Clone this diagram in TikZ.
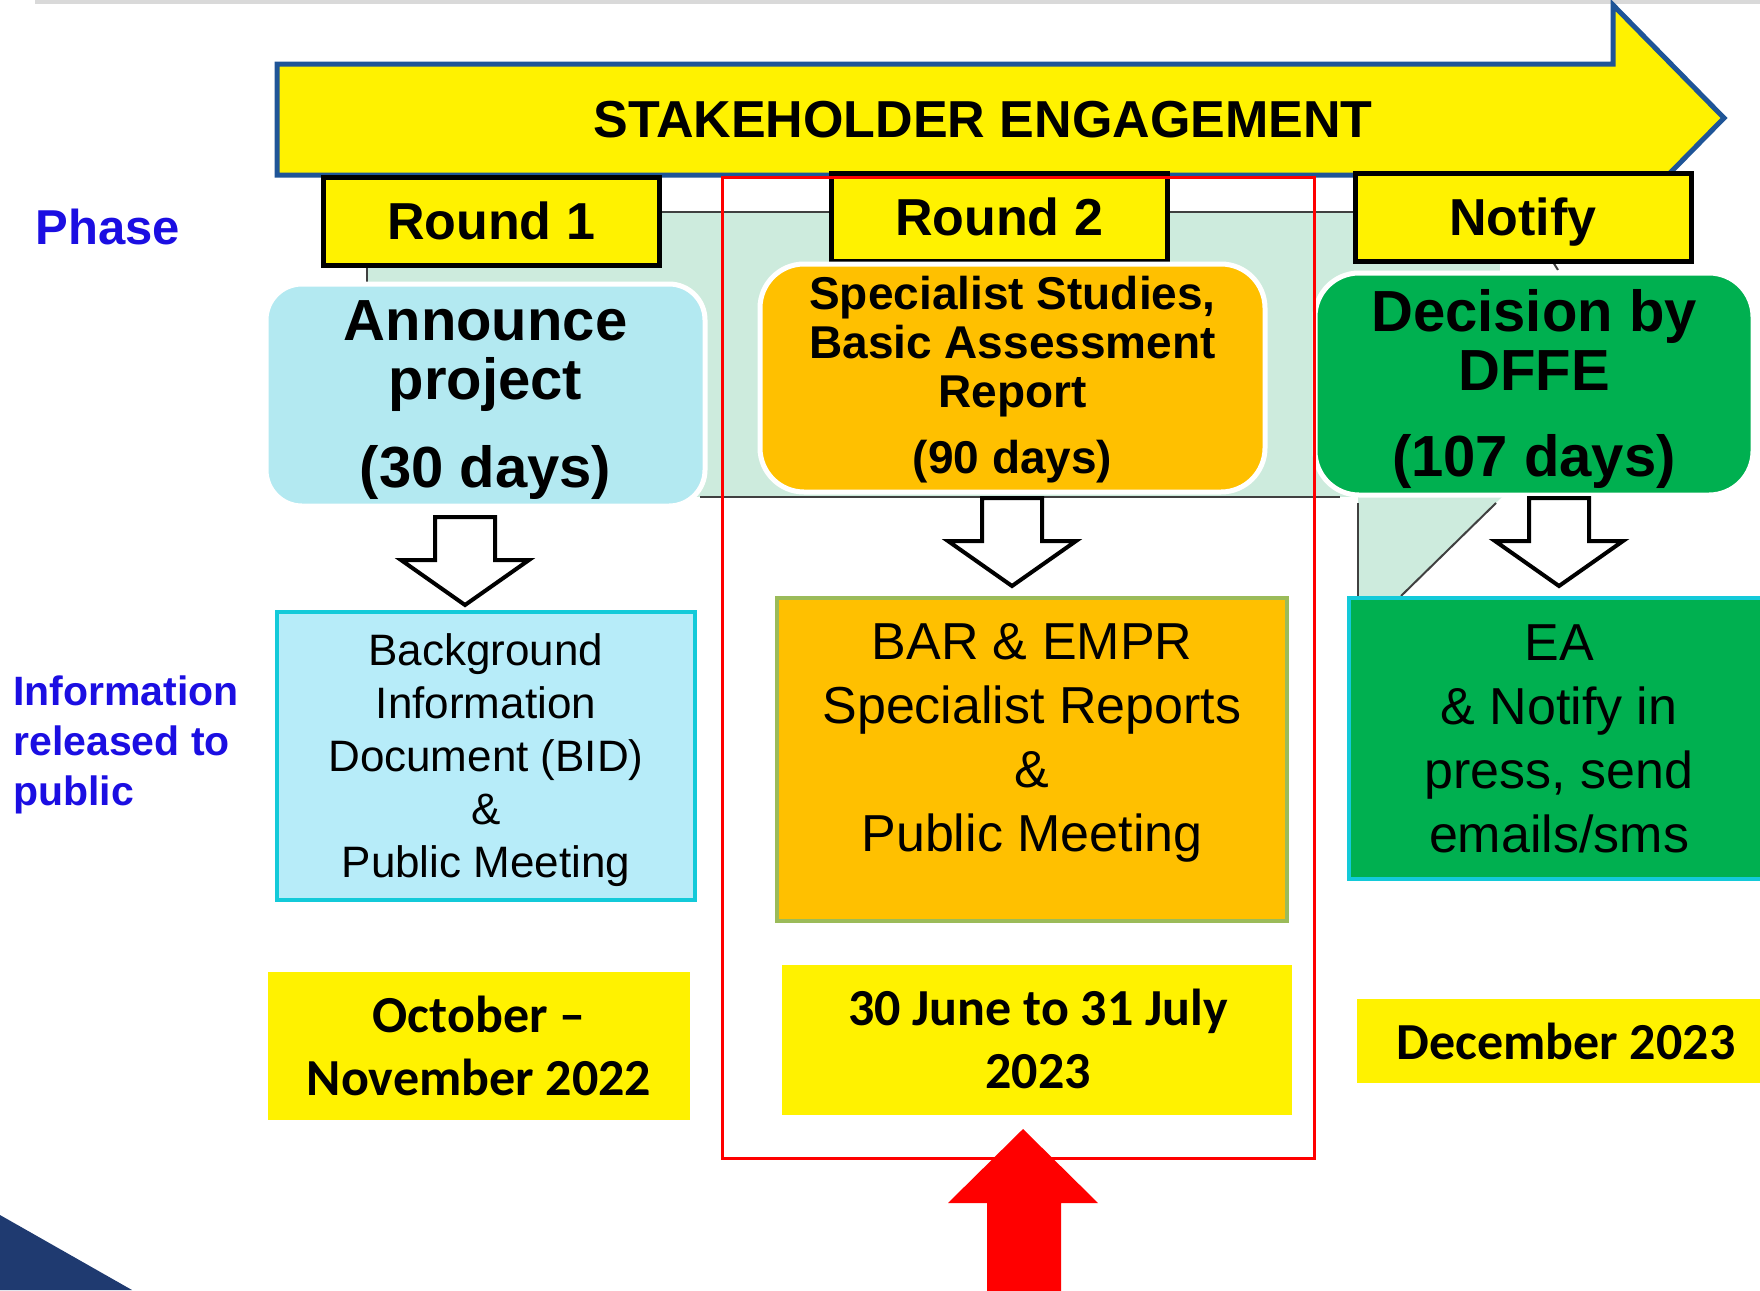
\documentclass[tikz,border=0pt]{standalone}
\usepackage{fontspec}
\setmainfont{Liberation Sans}
\newfontfamily\calibri{Carlito}
\usepackage{tikz}
\definecolor{bannerblue}{HTML}{1F5597}
\definecolor{bggreen}{HTML}{CDEBDD}
\definecolor{anncyan}{HTML}{B3E9F1}
\definecolor{studyorange}{HTML}{FFC000}
\definecolor{decgreen}{HTML}{00B050}
\definecolor{bidfill}{HTML}{B7ECF9}
\definecolor{cyanline}{HTML}{13CAD9}
\definecolor{oliveline}{HTML}{9BBB59}
\definecolor{phaseblue}{HTML}{1B0EE2}
\definecolor{cornernavy}{HTML}{1F3A70}
\tikzset{
    roundbox/.style={draw=black, line width=2.5pt, fill=yellow, minimum width=168pt,
        minimum height=44pt, inner sep=0pt, text depth=0pt, font=\fontsize{26}{30}\selectfont\bfseries},
    phasebox/.style={draw=white, line width=2.5pt, inner sep=0pt},
    infobox/.style={line width=2pt, inner sep=0pt},
    datebox/.style={fill=yellow, inner sep=0pt},
    boxtext/.style={align=flush center, inner sep=0pt, anchor=base, text width=250pt},
    datetext/.style={boxtext, font=\calibri\fontsize{26}{31.5}\selectfont\bfseries},
    hollowarrow/.style={draw=black, line width=2pt, fill=white},
    bgline/.style={draw=black!75, line width=1pt},
    sidelabel/.style={text=phaseblue, inner sep=0pt}
}

\begin{document}
\begin{tikzpicture}[x=0.5pt, y=-0.5pt]
    \useasboundingbox (0,0) rectangle (1760,1290);
    \draw [gray!30, line width=2pt] (35,2) -- (1760,2);
    \fill [cornernavy] (0,1215) -- (132,1290) -- (0,1290) -- cycle;

    % background band behind the phases
    \fill [bggreen] (367,212) rectangle (1500,497);
    \fill [bggreen] (1358,497) -- (1502,497) -- (1401,596) -- (1358,596) -- cycle;
    \draw [bgline] (367,497) -- (367,212) -- (1500,212);
    \draw [bgline] (700,497) -- (1340,497);
    \draw [bgline] (1358,503) -- (1358,596);
    \draw [bgline] (1496,503) -- (1401,596);
    \draw [bgline] (1553,262) -- (1558,270);

    % banner
    \draw [bannerblue, line width=2.5pt, fill=yellow] (277,64) -- (1613,64) -- (1613,5)
        -- (1724,118) -- (1613,231) -- (1613,175) -- (277,175) -- cycle;
    \node [inner sep=0pt, font=\fontsize{26}{30}\selectfont\bfseries] (banner) at (983,120) {STAKEHOLDER ENGAGEMENT};

    \node [roundbox] (round1) at (491,221) {Round 1};
    \node [roundbox] (round2) at (999,217) {Round 2};
    \node [roundbox] (notify) at (1523,217) {Notify};

    % phases
    \node [phasebox, fill=anncyan, rounded corners=18pt, minimum width=219.5pt, minimum height=111pt] (announce) at (485.5,395) {};
    \node [boxtext, font=\fontsize{29}{29.5}\selectfont\bfseries] (announce-text) at (485.5,340)
        {Announce\\project\\[14.5pt](30 days)};

    \node [phasebox, fill=studyorange, rounded corners=22pt, minimum width=252.5pt, minimum height=114pt] (studies) at (1012.5,378) {};
    \node [boxtext, font=\fontsize{23}{24.5}\selectfont\bfseries] (studies-text) at (1012.5,309)
        {Specialist Studies,\\Basic Assessment\\Report\\[8.5pt](90 days)};

    \node [phasebox, fill=decgreen, rounded corners=22pt, minimum width=219pt, minimum height=111pt] (decision) at (1534,384) {};
    \node [boxtext, font=\fontsize{29}{29.5}\selectfont\bfseries] (decision-text) at (1534,331)
        {Decision by\\DFFE\\[13.5pt](107 days)};

    \foreach \cx/\ty in {465/517, 1012/498, 1559/498}
        \draw [hollowarrow] (\cx-30,\ty) -- (\cx+30,\ty) -- (\cx+30,\ty+43) -- (\cx+64,\ty+43)
            -- (\cx,\ty+88) -- (\cx-64,\ty+43) -- (\cx-30,\ty+43) -- cycle;

    % information released
    \node [infobox, fill=bidfill, draw=cyanline, minimum width=209pt, minimum height=144pt] (bid) at (486,756) {};
    \node [boxtext, font=\fontsize{22}{26.5}\selectfont] (bid-text) at (486,665)
        {Background\\Information\\Document (BID)\\\&\\Public Meeting};

    \node [infobox, fill=studyorange, draw=oliveline, minimum width=255pt, minimum height=161.5pt] (bar) at (1032,759.5) {};
    \node [boxtext, font=\fontsize{26}{32}\selectfont] (bar-text) at (1032,659)
        {BAR \& EMPR\\Specialist Reports\\\&\\Public Meeting};

    \node [infobox, fill=decgreen, draw=cyanline, minimum width=213pt, minimum height=140.5pt] (ea) at (1562,738.5) {};
    \node [boxtext, font=\fontsize{26}{32}\selectfont] (ea-text) at (1559,660)
        {EA\\\& Notify in\\press, send\\emails/sms};

    % dates
    \node [datebox, minimum width=211pt, minimum height=74pt] (date1) at (479,1046) {};
    \node [datetext] (date1-text) at (479,1032) {October –\\November 2022};
    \node [datebox, minimum width=255pt, minimum height=75pt] (date2) at (1037,1040) {};
    \node [datetext] (date2-text) at (1038,1025) {30 June to 31 July\\2023};
    \node [datebox, minimum width=209pt, minimum height=42pt, font=\calibri\fontsize{26}{30}\selectfont\bfseries] (date3) at (1566,1041) {December 2023};

    % current round
    \draw [red, line width=1.5pt] (722,177) rectangle (1314,1158);
    \fill [red] (1023,1129) -- (1098,1203) -- (1061,1203) -- (1061,1300) -- (987,1300)
        -- (987,1203) -- (948,1203) -- cycle;

    \node [sidelabel, font=\fontsize{24.5}{28}\selectfont\bfseries] (phase) at (108,227) {Phase};
    \node [sidelabel, font=\fontsize{20.5}{25}\selectfont\bfseries, align=flush left, text width=130pt, anchor=base west] (info) at (13,705)
        {Information\\released to\\public};
\end{tikzpicture}
\end{document}
